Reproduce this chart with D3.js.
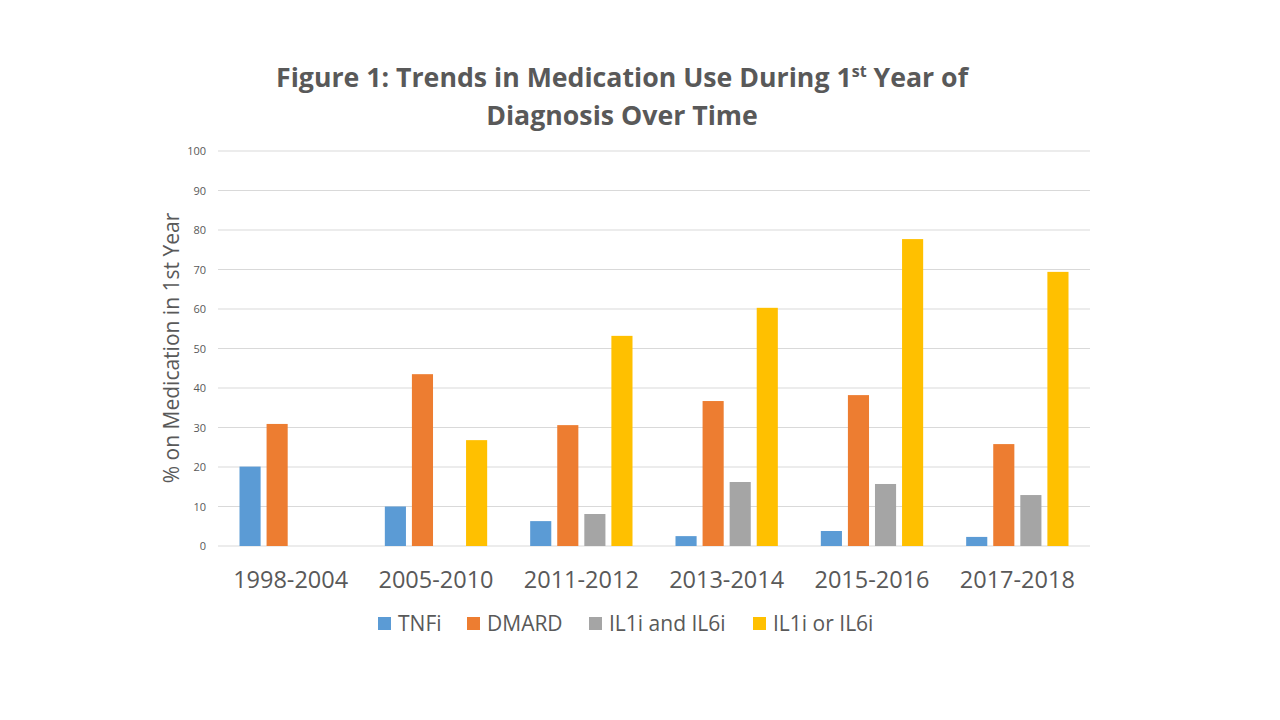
<!DOCTYPE html>
<html>
<head>
<meta charset="utf-8">
<script src="https://cdn.jsdelivr.net/npm/d3@7.9.0/dist/d3.min.js"></script>
<style>
  body { margin: 0; background: #fff; }
  svg text { font-family: "Open Sans", "Liberation Sans", sans-serif; fill: #595959; }
</style>
</head>
<body>
<svg id="chart" width="1280" height="720"></svg>
<script>
// --- DATA ---
const periods = ["1998-2004", "2005-2010", "2011-2012", "2013-2014", "2015-2016", "2017-2018"];
const seriesNames = ["TNFi", "DMARD", "IL1i and IL6i", "IL1i or IL6i"];
const tnfi = [20.1, 10, 6.3, 2.5, 3.8, 2.3];
const dmard = [30.9, 43.5, 30.6, 36.7, 38.2, 25.8];
const il1AndIl6 = [null, null, 8.1, 16.2, 15.7, 12.9];
const il1OrIl6 = [null, 26.8, 53.2, 60.3, 77.7, 69.4];
const yTicks = [0, 10, 20, 30, 40, 50, 60, 70, 80, 90, 100];
const colors = ["#5B9BD5", "#ED7D31", "#A5A5A5", "#FFC000"];

const allSeries = [tnfi, dmard, il1AndIl6, il1OrIl6];

const svg = d3.select("#chart");
const plotLeft = 218, plotRight = 1090, plotTop = 151, plotBottom = 546;

const x0 = d3.scaleBand().domain(periods).range([plotLeft, plotRight]).paddingInner(0).paddingOuter(0);
const x1 = d3.scaleBand().domain(seriesNames).range([21.5, x0.bandwidth() - 21.5]).paddingInner(0.22);
const y = d3.scaleLinear().domain([0, 100]).range([plotBottom, plotTop]);

// gridlines
svg.append("g")
  .selectAll("line")
  .data(yTicks)
  .join("line")
  .attr("x1", plotLeft).attr("x2", plotRight)
  .attr("y1", d => y(d)).attr("y2", d => y(d))
  .attr("stroke", "#D9D9D9").attr("stroke-width", 1);

// y tick labels
svg.append("g")
  .selectAll("text")
  .data(yTicks)
  .join("text")
  .attr("x", 206).attr("y", d => y(d) + 4)
  .attr("text-anchor", "end")
  .style("font-size", "11px")
  .text(d => d);

// bars
const groups = svg.append("g")
  .selectAll("g")
  .data(periods)
  .join("g")
  .attr("transform", d => `translate(${x0(d)},0)`);

groups.selectAll("rect")
  .data((p, i) => seriesNames.map((s, j) => ({ s, j, v: allSeries[j][i] })).filter(d => d.v != null))
  .join("rect")
  .attr("x", d => x1(d.s))
  .attr("width", x1.bandwidth())
  .attr("y", d => y(d.v))
  .attr("height", d => y(0) - y(d.v))
  .attr("fill", d => colors[d.j]);

// category labels
svg.append("g")
  .selectAll("text")
  .data(periods)
  .join("text")
  .attr("x", d => x0(d) + x0.bandwidth() / 2)
  .attr("y", 588)
  .attr("text-anchor", "middle")
  .style("font-size", "23.5px")
  .text(d => d);

// y axis title
svg.append("text")
  .attr("transform", "translate(179,348) rotate(-90)")
  .attr("text-anchor", "middle")
  .style("font-size", "21px")
  .text("% on Medication in 1st Year");

// title
const title = svg.append("text")
  .attr("x", 622).attr("y", 87)
  .attr("text-anchor", "middle")
  .style("font-size", "26.7px")
  .style("font-weight", "bold");
title.append("tspan").text("Figure 1: Trends in Medication Use During 1");
title.append("tspan").attr("dy", -10).style("font-size", "16px").text("st");
title.append("tspan").attr("dy", 10).text(" Year of");

svg.append("text")
  .attr("x", 622).attr("y", 125)
  .attr("text-anchor", "middle")
  .style("font-size", "26.7px")
  .style("font-weight", "bold")
  .text("Diagnosis Over Time");

// legend
const legendX = [378, 467, 589, 753];
const legend = svg.append("g")
  .selectAll("g")
  .data(seriesNames)
  .join("g")
  .attr("transform", (d, i) => `translate(${legendX[i]},617)`);
legend.append("rect")
  .attr("width", 13).attr("height", 13)
  .attr("fill", (d, i) => colors[i]);
legend.append("text")
  .attr("x", 20).attr("y", 13.5)
  .style("font-size", "21px")
  .text(d => d);
</script>
</body>
</html>
